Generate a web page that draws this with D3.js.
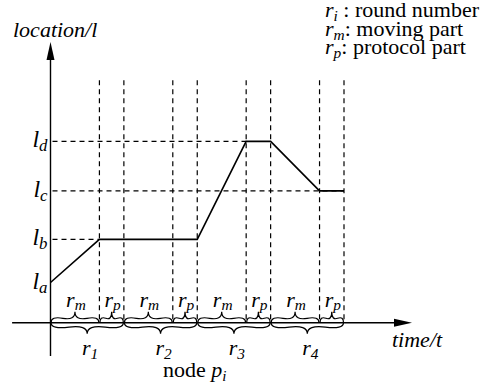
<!DOCTYPE html>
<html>
<head>
<meta charset="utf-8">
<script src="https://cdn.jsdelivr.net/npm/d3@7"></script>
</head>
<body style="margin:0">
<svg width="483" height="392"></svg>
<script>
var serifFont = "'Liberation Serif'";

// time in units of one protocol part (rm = 2 units, rp = 1 unit)
var roundNames = ["1", "2", "3", "4"];
var roundStarts = [0, 3, 6, 9];
var movingLength = 2;
var protocolLength = 1;

// location levels
var levelNames = ["a", "b", "c", "d"];
var levelValues = [0.82, 1.70, 2.69, 3.70];

// path of node p_i : [time, location]
var pathTimes = [0, 2, 6, 8, 9, 11, 12];
var pathLocations = [0.82, 1.70, 1.70, 3.70, 3.70, 2.69, 2.69];

// horizontal guide lines end at these times (null = no guide)
var levelGuideEnds = [null, 2, 12, 8];

// axis extents
var xAxisExtent = [-1.57, 14.78];
var yAxisExtent = [-0.68, 5.73];
var guideTop = 4.95;

var legendLines = [
    ["i", " : round number"],
    ["m", ": moving part"],
    ["p", ": protocol part"]
];

var svg = d3.select("svg");

var x = d3.scaleLinear().domain([0, 12]).range([50.5, 344]);
var y = d3.scaleLinear().domain([0, 4]).range([322.7, 126.7]);

// vertical dashed guides at end of each moving and protocol part
var guideTimes = [];
roundStarts.forEach(function(s) {
    guideTimes.push(s + movingLength);
    guideTimes.push(s + movingLength + protocolLength);
});

svg.selectAll(".vguide")
    .data(guideTimes)
    .enter()
    .append("line")
    .attr("class", "vguide")
    .attr("x1", function(d) { return x(d); })
    .attr("x2", function(d) { return x(d); })
    .attr("y1", y(guideTop))
    .attr("y2", y(0))
    .attr("stroke", "#000")
    .attr("stroke-width", 1.2)
    .attr("stroke-dasharray", "5,4");

var levels = levelValues.map(function(v, i) {
    return { name: levelNames[i], value: v, end: levelGuideEnds[i] };
});

svg.selectAll(".hguide")
    .data(levels.filter(function(d) { return d.end !== null; }))
    .enter()
    .append("line")
    .attr("class", "hguide")
    .attr("x1", x(0) + 2)
    .attr("x2", function(d) { return x(d.end); })
    .attr("y1", function(d) { return y(d.value); })
    .attr("y2", function(d) { return y(d.value); })
    .attr("stroke", "#000")
    .attr("stroke-width", 1.2)
    .attr("stroke-dasharray", "5,4");

// axes
svg.append("line")
    .attr("x1", x(xAxisExtent[0]))
    .attr("x2", x(xAxisExtent[1]) - 10)
    .attr("y1", y(0))
    .attr("y2", y(0))
    .attr("stroke", "#000")
    .attr("stroke-width", 1.4);

svg.append("line")
    .attr("x1", x(0))
    .attr("x2", x(0))
    .attr("y1", y(yAxisExtent[0]))
    .attr("y2", y(yAxisExtent[1]) + 10)
    .attr("stroke", "#000")
    .attr("stroke-width", 1.4);

var xt = x(xAxisExtent[1]), yt = y(0);
svg.append("path")
    .attr("d", "M" + xt + "," + yt + "L" + (xt - 18) + "," + (yt - 4) + "L" + (xt - 18) + "," + (yt + 4) + "Z")
    .attr("fill", "#000");

var ax = x(0), ay = y(yAxisExtent[1]);
svg.append("path")
    .attr("d", "M" + ax + "," + ay + "L" + (ax - 4) + "," + (ay + 18) + "L" + (ax + 4) + "," + (ay + 18) + "Z")
    .attr("fill", "#000");

// node path
var line = d3.line()
    .x(function(d) { return x(d[0]); })
    .y(function(d) { return y(d[1]); });

svg.append("path")
    .datum(pathTimes.map(function(t, i) { return [t, pathLocations[i]]; }))
    .attr("d", line)
    .attr("fill", "none")
    .attr("stroke", "#000")
    .attr("stroke-width", 1.6);

// curly braces
function brace(x1, y1, x2, y2, w, q) {
    var dx = x1 - x2, dy = y1 - y2;
    var len = Math.sqrt(dx * dx + dy * dy);
    dx = dx / len; dy = dy / len;
    var qx1 = x1 + q * w * dy, qy1 = y1 - q * w * dx;
    var qx2 = (x1 - .25 * len * dx) + (1 - q) * w * dy, qy2 = (y1 - .25 * len * dy) - (1 - q) * w * dx;
    var tx1 = (x1 - .5 * len * dx) + w * dy, ty1 = (y1 - .5 * len * dy) - w * dx;
    var qx3 = x2 + q * w * dy, qy3 = y2 - q * w * dx;
    var qx4 = (x1 - .75 * len * dx) + (1 - q) * w * dy, qy4 = (y1 - .75 * len * dy) - (1 - q) * w * dx;
    return "M" + x1 + "," + y1 + "Q" + qx1 + "," + qy1 + " " + qx2 + "," + qy2 + "T" + tx1 + "," + ty1 +
        "M" + x2 + "," + y2 + "Q" + qx3 + "," + qy3 + " " + qx4 + "," + qy4 + "T" + tx1 + "," + ty1;
}

var parts = [];
roundStarts.forEach(function(s) {
    parts.push({ sub: "m", t0: s, t1: s + movingLength });
    parts.push({ sub: "p", t0: s + movingLength, t1: s + movingLength + protocolLength });
});

// upper braces (pointing up): go right-to-left
svg.selectAll(".pbrace")
    .data(parts)
    .enter()
    .append("path")
    .attr("class", "pbrace")
    .attr("d", function(d) { return brace(x(d.t1) - 0.5, y(0), x(d.t0) + 0.5, y(0), 11, 0.6); })
    .attr("fill", "none")
    .attr("stroke", "#000")
    .attr("stroke-width", 1.2);

// lower braces (pointing down)
svg.selectAll(".rbrace")
    .data(roundStarts)
    .enter()
    .append("path")
    .attr("class", "rbrace")
    .attr("d", function(d) { return brace(x(d) + 0.5, y(0), x(d + movingLength + protocolLength) - 0.5, y(0), 11, 0.6); })
    .attr("fill", "none")
    .attr("stroke", "#000")
    .attr("stroke-width", 1.2);

function addText(g, px, py, size) {
    return g.append("text")
        .attr("x", px)
        .attr("y", py)
        .attr("font-size", size)
        .style("font-family", serifFont, "important");
}

// text with italic main letter and subscript
function subText(g, px, py, main, sub, size, anchor, subDy) {
    var t = addText(g, px, py, size).attr("text-anchor", anchor || "start");
    t.append("tspan").attr("font-style", "italic").text(main);
    t.append("tspan")
        .attr("font-style", "italic")
        .attr("font-size", size * 0.7)
        .attr("dy", subDy)
        .text(sub);
    return t;
}

parts.forEach(function(d) {
    subText(svg, (x(d.t0) + x(d.t1)) / 2 + 1, y(0) - 16, "r", d.sub, 22, "middle", 3);
});

roundStarts.forEach(function(s, i) {
    subText(svg, (x(s) + x(s + movingLength + protocolLength)) / 2 + 3, y(0) + 32, "r", roundNames[i], 22, "middle", 4);
});

levels.forEach(function(d) {
    subText(svg, x(0) - 3, y(d.value) + 6, "l", d.name, 24, "end", 4);
});

// axis titles
addText(svg, 13, 37, 22)
    .attr("font-style", "italic")
    .text("location/l");

addText(svg, 392, 347, 22)
    .attr("font-style", "italic")
    .text("time/t");

var node = addText(svg, 163, 377, 22);
node.append("tspan").text("node ");
node.append("tspan").attr("font-style", "italic").text("p");
node.append("tspan").attr("font-style", "italic").attr("font-size", 15).attr("dy", 4).text("i");

// legend
legendLines.forEach(function(d, i) {
    var t = subText(svg, 325, 17 + i * 18.5, "r", d[0], 22, "start", 4);
    t.append("tspan").attr("dy", -4).text(d[1]);
});
</script>
</body>
</html>
